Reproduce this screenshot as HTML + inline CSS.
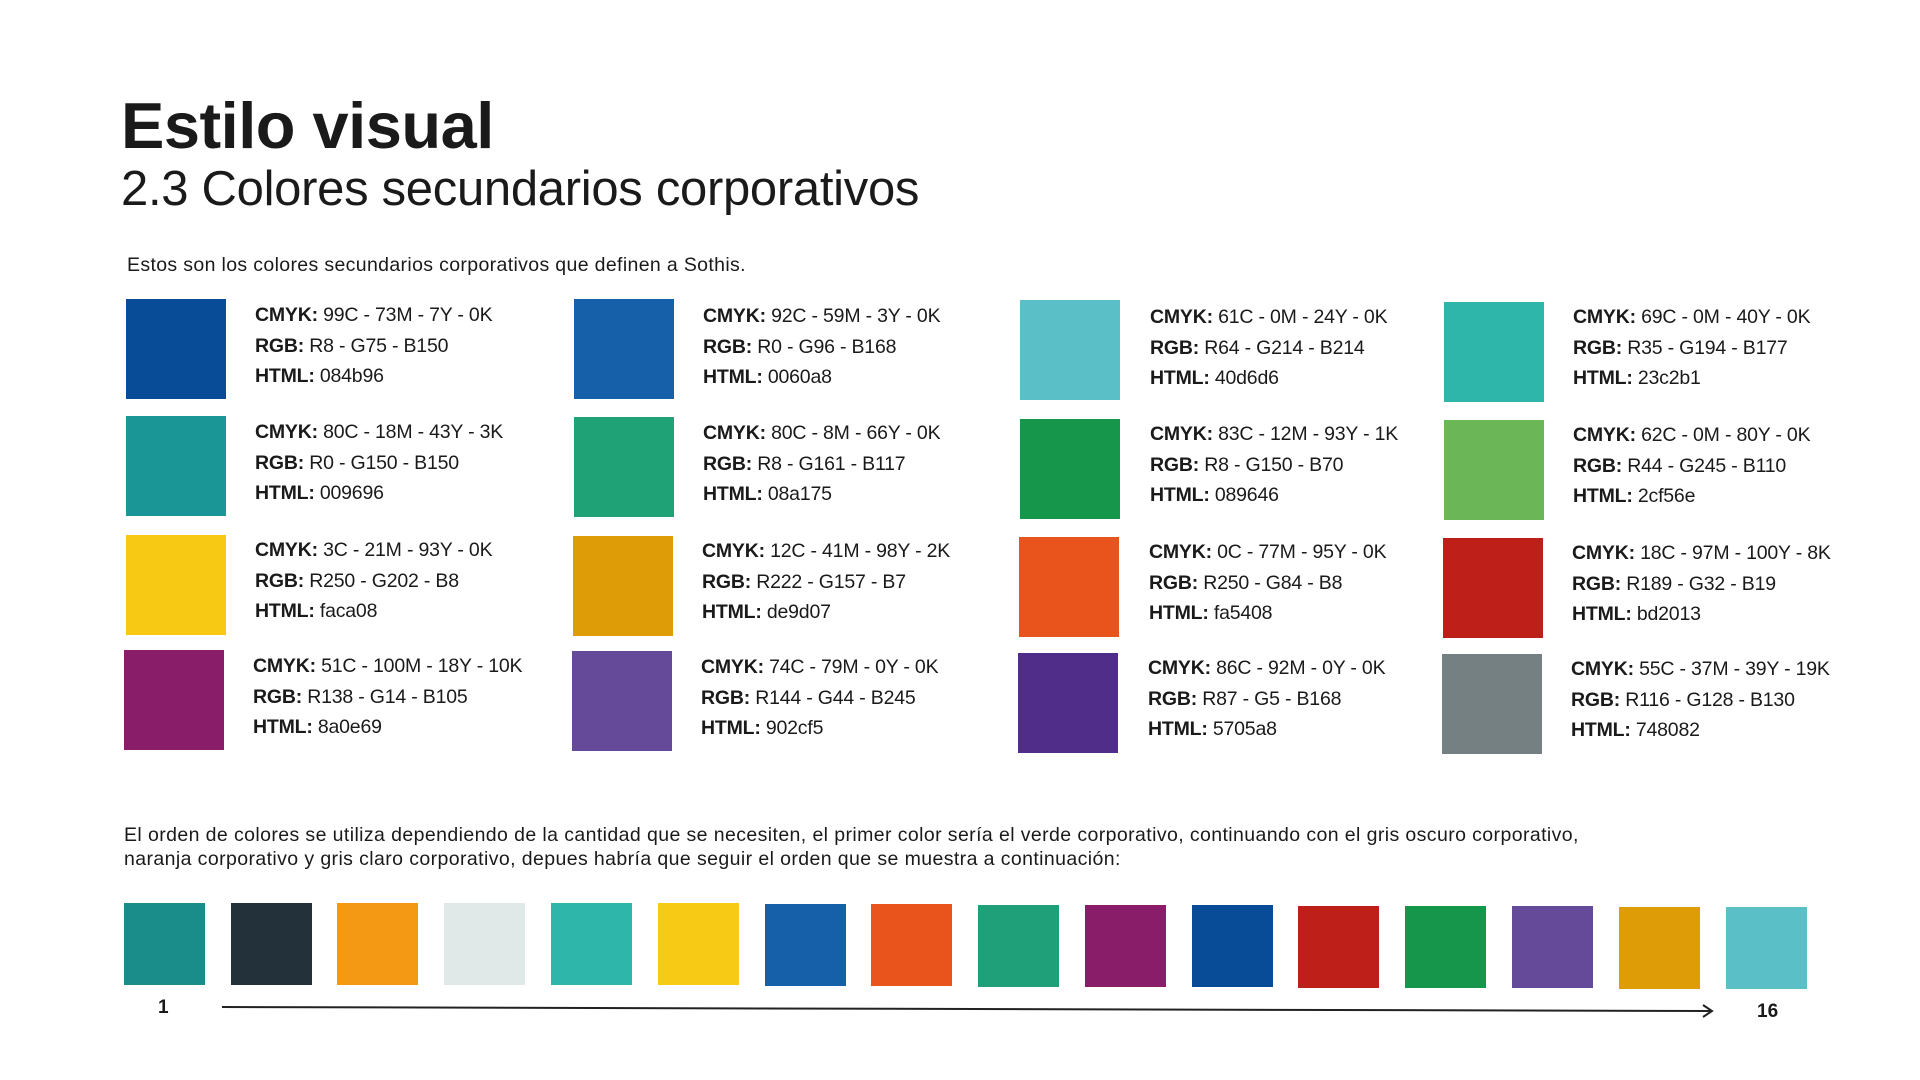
<!DOCTYPE html>
<html><head><meta charset="utf-8"><style>
body{margin:0;width:1920px;height:1080px;background:#fff;position:relative;overflow:hidden;font-family:"Liberation Sans",sans-serif;color:#1a1a1a}
.a{position:absolute;white-space:nowrap}
.sw{position:absolute;width:100px;height:100px}
.t{position:absolute;font-size:19.5px;line-height:30.5px;white-space:nowrap;letter-spacing:-0.2px}
.t b{font-weight:bold}
.bs{position:absolute;width:81px;height:82px;top:903px}
</style></head><body>
<div class="a" style="left:121px;top:88px;font-size:65px;font-weight:bold;letter-spacing:-0.5px">Estilo visual</div>
<div class="a" style="left:121px;top:161px;font-size:49px;font-weight:normal;letter-spacing:-0.3px">2.3 Colores secundarios corporativos</div>
<div class="a" style="left:127px;top:254px;font-size:19.5px;letter-spacing:0.35px">Estos son los colores secundarios corporativos que definen a Sothis.</div>

<div class="sw" style="left:126px;top:299px;background:#084b96"></div>
<div class="t" style="left:255px;top:300px"><b>CMYK:</b> 99C - 73M - 7Y - 0K<br><b>RGB:</b> R8 - G75 - B150<br><b>HTML:</b> 084b96</div>
<div class="sw" style="left:126px;top:416px;background:#1a9696"></div>
<div class="t" style="left:255px;top:417px"><b>CMYK:</b> 80C - 18M - 43Y - 3K<br><b>RGB:</b> R0 - G150 - B150<br><b>HTML:</b> 009696</div>
<div class="sw" style="left:126px;top:535px;background:#f7c915"></div>
<div class="t" style="left:255px;top:535px"><b>CMYK:</b> 3C - 21M - 93Y - 0K<br><b>RGB:</b> R250 - G202 - B8<br><b>HTML:</b> faca08</div>
<div class="sw" style="left:124px;top:650px;background:#8a1d69"></div>
<div class="t" style="left:253px;top:651px"><b>CMYK:</b> 51C - 100M - 18Y - 10K<br><b>RGB:</b> R138 - G14 - B105<br><b>HTML:</b> 8a0e69</div>

<div class="sw" style="left:574px;top:299px;background:#1560a8"></div>
<div class="t" style="left:703px;top:301px"><b>CMYK:</b> 92C - 59M - 3Y - 0K<br><b>RGB:</b> R0 - G96 - B168<br><b>HTML:</b> 0060a8</div>
<div class="sw" style="left:574px;top:417px;background:#1ea276"></div>
<div class="t" style="left:703px;top:418px"><b>CMYK:</b> 80C - 8M - 66Y - 0K<br><b>RGB:</b> R8 - G161 - B117<br><b>HTML:</b> 08a175</div>
<div class="sw" style="left:573px;top:536px;background:#de9d07"></div>
<div class="t" style="left:702px;top:536px"><b>CMYK:</b> 12C - 41M - 98Y - 2K<br><b>RGB:</b> R222 - G157 - B7<br><b>HTML:</b> de9d07</div>
<div class="sw" style="left:572px;top:651px;background:#644a98"></div>
<div class="t" style="left:701px;top:652px"><b>CMYK:</b> 74C - 79M - 0Y - 0K<br><b>RGB:</b> R144 - G44 - B245<br><b>HTML:</b> 902cf5</div>

<div class="sw" style="left:1020px;top:300px;background:#5bbfc8"></div>
<div class="t" style="left:1150px;top:302px"><b>CMYK:</b> 61C - 0M - 24Y - 0K<br><b>RGB:</b> R64 - G214 - B214<br><b>HTML:</b> 40d6d6</div>
<div class="sw" style="left:1020px;top:419px;background:#15964a"></div>
<div class="t" style="left:1150px;top:419px"><b>CMYK:</b> 83C - 12M - 93Y - 1K<br><b>RGB:</b> R8 - G150 - B70<br><b>HTML:</b> 089646</div>
<div class="sw" style="left:1019px;top:537px;background:#e9541c"></div>
<div class="t" style="left:1149px;top:537px"><b>CMYK:</b> 0C - 77M - 95Y - 0K<br><b>RGB:</b> R250 - G84 - B8<br><b>HTML:</b> fa5408</div>
<div class="sw" style="left:1018px;top:653px;background:#4f2d89"></div>
<div class="t" style="left:1148px;top:653px"><b>CMYK:</b> 86C - 92M - 0Y - 0K<br><b>RGB:</b> R87 - G5 - B168<br><b>HTML:</b> 5705a8</div>

<div class="sw" style="left:1444px;top:302px;background:#2fb6aa"></div>
<div class="t" style="left:1573px;top:302px"><b>CMYK:</b> 69C - 0M - 40Y - 0K<br><b>RGB:</b> R35 - G194 - B177<br><b>HTML:</b> 23c2b1</div>
<div class="sw" style="left:1444px;top:420px;background:#6bb757"></div>
<div class="t" style="left:1573px;top:420px"><b>CMYK:</b> 62C - 0M - 80Y - 0K<br><b>RGB:</b> R44 - G245 - B110<br><b>HTML:</b> 2cf56e</div>
<div class="sw" style="left:1443px;top:538px;background:#be2019"></div>
<div class="t" style="left:1572px;top:538px"><b>CMYK:</b> 18C - 97M - 100Y - 8K<br><b>RGB:</b> R189 - G32 - B19<br><b>HTML:</b> bd2013</div>
<div class="sw" style="left:1442px;top:654px;background:#748082"></div>
<div class="t" style="left:1571px;top:654px"><b>CMYK:</b> 55C - 37M - 39Y - 19K<br><b>RGB:</b> R116 - G128 - B130<br><b>HTML:</b> 748082</div>

<div class="a" style="left:124px;top:823px;font-size:19.5px;line-height:24px;letter-spacing:0.4px">El orden de colores se utiliza dependiendo de la cantidad que se necesiten, el primer color sería el verde corporativo, continuando con el gris oscuro corporativo,<br>naranja corporativo y gris claro corporativo, depues habría que seguir el orden que se muestra a continuación:</div>

<div class="bs" style="left:124px;background:#1a8c8a"></div>
<div class="bs" style="left:231px;background:#22313a"></div>
<div class="bs" style="left:337px;background:#f39914"></div>
<div class="bs" style="left:444px;background:#e0e9e7"></div>
<div class="bs" style="left:551px;background:#2fb6aa"></div>
<div class="bs" style="left:658px;background:#f7cb15"></div>
<div class="bs" style="left:765px;top:904px;background:#1560a8"></div>
<div class="bs" style="left:871px;top:904px;background:#e9541c"></div>
<div class="bs" style="left:978px;top:905px;background:#1fa078"></div>
<div class="bs" style="left:1085px;top:905px;background:#8a1d69"></div>
<div class="bs" style="left:1192px;top:905px;background:#084b96"></div>
<div class="bs" style="left:1298px;top:906px;background:#be2019"></div>
<div class="bs" style="left:1405px;top:906px;background:#15964a"></div>
<div class="bs" style="left:1512px;top:906px;background:#644a98"></div>
<div class="bs" style="left:1619px;top:907px;background:#de9d07"></div>
<div class="bs" style="left:1726px;top:907px;background:#5bbfc8"></div>

<div class="a" style="left:158px;top:997px;font-size:19px;font-weight:bold">1</div>
<div class="a" style="left:1757px;top:1001px;font-size:19px;font-weight:bold">16</div>
<svg class="a" style="left:0;top:0" width="1920" height="1080"><line x1="222" y1="1007" x2="1710" y2="1011" stroke="#222" stroke-width="2"/><polyline points="1703,1005 1712,1011 1703,1017" fill="none" stroke="#222" stroke-width="2"/></svg>
</body></html>
